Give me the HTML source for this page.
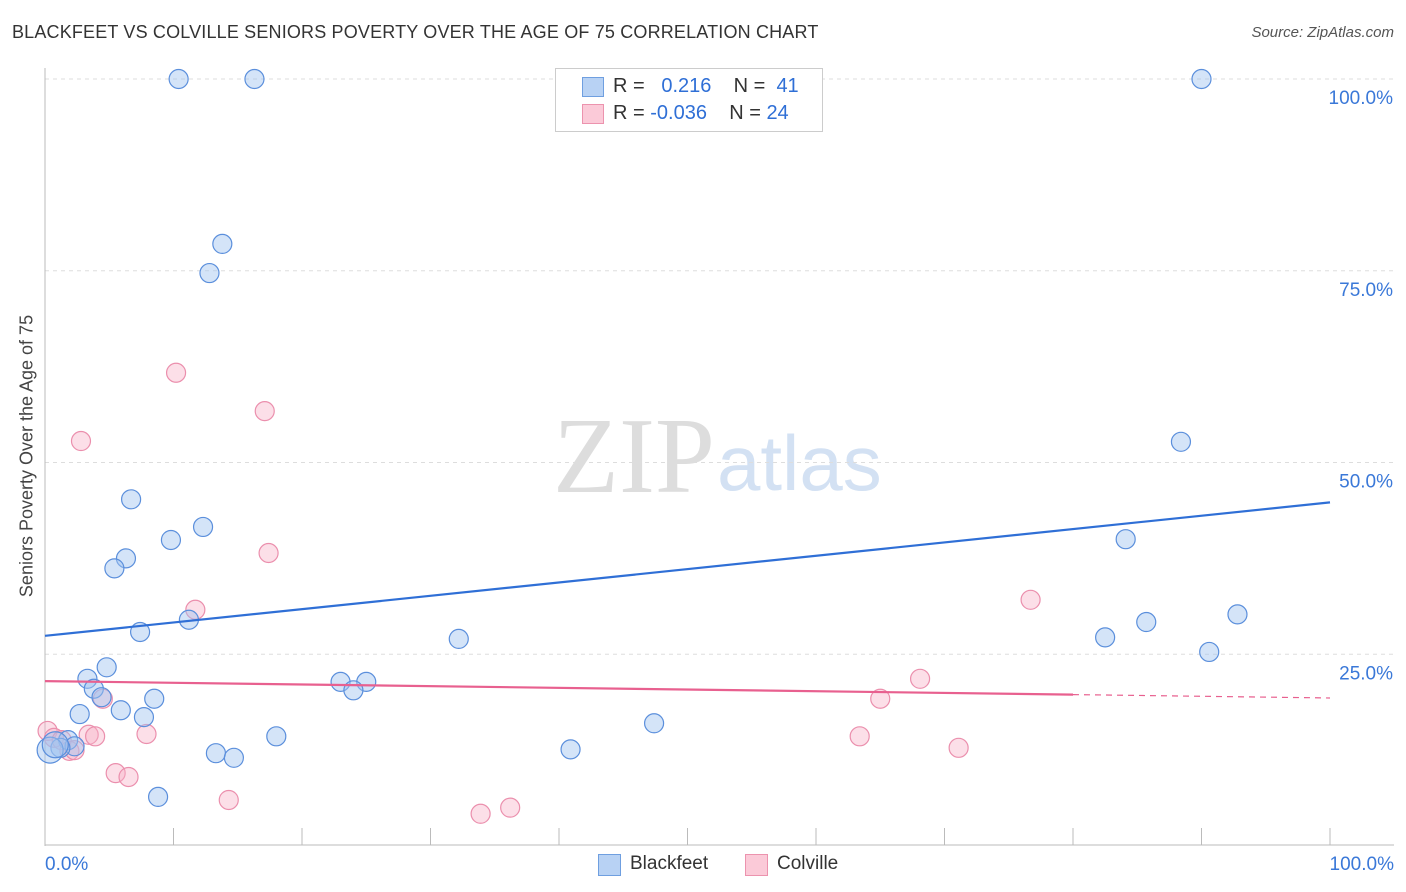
<!DOCTYPE html>
<html><head><meta charset="utf-8"><style>
body{margin:0;background:#fff;font-family:"Liberation Sans",sans-serif;}
#wrap{position:relative;width:1406px;height:892px;overflow:hidden;}
.t{position:absolute;white-space:nowrap;}
</style></head><body>
<div id="wrap">
<div class="t" style="left:12px;top:22px;font-size:18px;color:#333;letter-spacing:0.17px;">BLACKFEET VS COLVILLE SENIORS POVERTY OVER THE AGE OF 75 CORRELATION CHART</div>
<div class="t" style="right:12px;top:24px;font-size:15px;color:#555;font-style:italic;">Source: ZipAtlas.com</div>
<div class="t" style="left:27px;top:456px;font-size:18px;color:#444;transform:translate(-50%,-50%) rotate(-90deg);">Seniors Poverty Over the Age of 75</div>
<svg id="svg" width="1406" height="892" style="position:absolute;left:0;top:0">
<text x="553" y="492" font-family="Liberation Serif,serif" font-size="108" fill="#ddd">ZIP</text>
<text x="717" y="490" font-family="Liberation Sans,sans-serif" font-size="78" fill="#d3e1f3">atlas</text>
</svg>
<div style="position:absolute;left:555px;top:68px;width:266px;height:62px;border:1px solid #ccc;background:#fff;font-size:20px;">
<div style="position:absolute;left:26px;top:8px;width:20px;height:18px;background:#b8d2f4;border:1px solid #6f9fe0;"></div>
<div class="t" style="left:57px;top:6px;color:#333;">R = &nbsp;<span style="color:#2f6fd6">&nbsp;0.216</span>&nbsp;&nbsp;&nbsp; N = &nbsp;<span style="color:#2f6fd6">41</span></div>
<div style="position:absolute;left:26px;top:35px;width:20px;height:18px;background:#fbcad8;border:1px solid #ec93ae;"></div>
<div class="t" style="left:57px;top:33px;color:#333;">R = <span style="color:#2f6fd6">-0.036</span>&nbsp;&nbsp;&nbsp; N = <span style="color:#2f6fd6">24</span></div>
</div>
<div style="position:absolute;left:598px;top:854px;width:21px;height:20px;background:#b8d2f4;border:1px solid #6f9fe0;"></div>
<div class="t" style="left:630px;top:853px;font-size:19px;color:#333;">Blackfeet</div>
<div style="position:absolute;left:745px;top:854px;width:21px;height:20px;background:#fbcad8;border:1px solid #ec93ae;"></div>
<div class="t" style="left:777px;top:853px;font-size:19px;color:#333;">Colville</div>
</div>
<script>
const blueX=[10.4,16.3,90.0,13.8,12.8,88.4,6.7,12.3,9.8,6.3,5.4,84.1,7.4,11.2,32.2,82.5,85.7,92.8,90.6,4.8,3.3,3.8,4.4,8.5,23.0,25.0,24.0,2.7,5.9,7.7,47.4,18.0,13.3,14.7,40.9,8.8,1.8,2.3,1.2,0.4,0.8];
const blueY=[100,100,100,78.5,74.7,52.7,45.2,41.6,39.9,37.5,36.2,40.0,27.9,29.5,27.0,27.2,29.2,30.2,25.3,23.3,21.8,20.5,19.4,19.2,21.4,21.4,20.3,17.2,17.7,16.8,16.0,14.3,12.1,11.5,12.6,6.4,13.8,13.0,12.8,12.5,13.2];
const pinkX=[10.2,17.1,2.8,17.4,11.7,76.7,68.1,65.0,4.5,0.2,0.7,1.3,1.9,2.3,3.4,3.9,7.9,63.4,71.1,5.5,6.5,14.3,33.9,36.2];
const pinkY=[61.7,56.7,52.8,38.2,30.8,32.1,21.8,19.2,19.2,15.0,14.1,13.8,12.4,12.5,14.5,14.3,14.6,14.3,12.8,9.5,9.0,6.0,4.2,5.0];
const blueTrend=[27.4,44.8];
const pinkTrend=[21.5,19.3];
const yTicks=[25,50,75,100];
const yTickLabels=["25.0%","50.0%","75.0%","100.0%"];
const xTickLabels=["0.0%","100.0%"];
const sx=v=>45+v*12.85, sy=v=>846-v*7.67;
const svg=document.getElementById('svg');const NS='http://www.w3.org/2000/svg';
function mk(tag,attrs){const e=document.createElementNS(NS,tag);for(const k in attrs)e.setAttribute(k,attrs[k]);svg.appendChild(e);return e;}
yTicks.forEach((t,i)=>{
 const g=mk('line',{x1:45,x2:1394,y1:sy(t),y2:sy(t),stroke:'#ddd','stroke-dasharray':'4,4'});
 
 
 const l=mk('text',{x:1393,y:sy(t)+25,'text-anchor':'end','font-size':19,fill:'#3a78d8','font-family':'Liberation Sans,sans-serif'});
 l.textContent=yTickLabels[i];
 
 
});
let a=mk('line',{x1:45,x2:45,y1:68,y2:846,stroke:'#bbb'});


a=mk('line',{x1:45,x2:1394,y1:845,y2:845,stroke:'#bbb'});


for(let i=1;i<=10;i++){const tk=mk('line',{x1:sx(i*10),x2:sx(i*10),y1:828,y2:845,stroke:'#bbb'});
 
 }
[[0,'start',45],[100,'end',1394]].forEach((d,i)=>{const l=mk('text',{x:d[2],y:870,'text-anchor':d[1],'font-size':19,fill:'#3a78d8','font-family':'Liberation Sans,sans-serif'});
 l.textContent=xTickLabels[i];
 
 });
function dots(X,Y,fill,stroke,name){X.forEach((x,i)=>{const r=(x<1&&name=='blackfeet-point')?13:9.5;
 const c=mk('circle',{cx:sx(x),cy:sy(Y[i]),r:r,fill:fill,stroke:stroke,'stroke-width':1.2});
 
 });}
dots(pinkX,pinkY,'rgba(248,175,198,0.4)','#eb8fad','colville-point');
dots(blueX,blueY,'rgba(160,196,240,0.45)','#5b8fdc','blackfeet-point');
let tl=mk('line',{x1:sx(0),y1:sy(blueTrend[0]),x2:sx(100),y2:sy(blueTrend[1]),stroke:'#2f6fd6','stroke-width':2.2});


const pm=v=>pinkTrend[0]+(pinkTrend[1]-pinkTrend[0])*v/100;
tl=mk('line',{x1:sx(0),y1:sy(pm(0)),x2:sx(80),y2:sy(pm(80)),stroke:'#e8608f','stroke-width':2.2});


tl=mk('line',{x1:sx(80),y1:sy(pm(80)),x2:sx(100),y2:sy(pm(100)),stroke:'#e8608f','stroke-width':1.2,'stroke-dasharray':'6,5'});


</script>
</body></html>
